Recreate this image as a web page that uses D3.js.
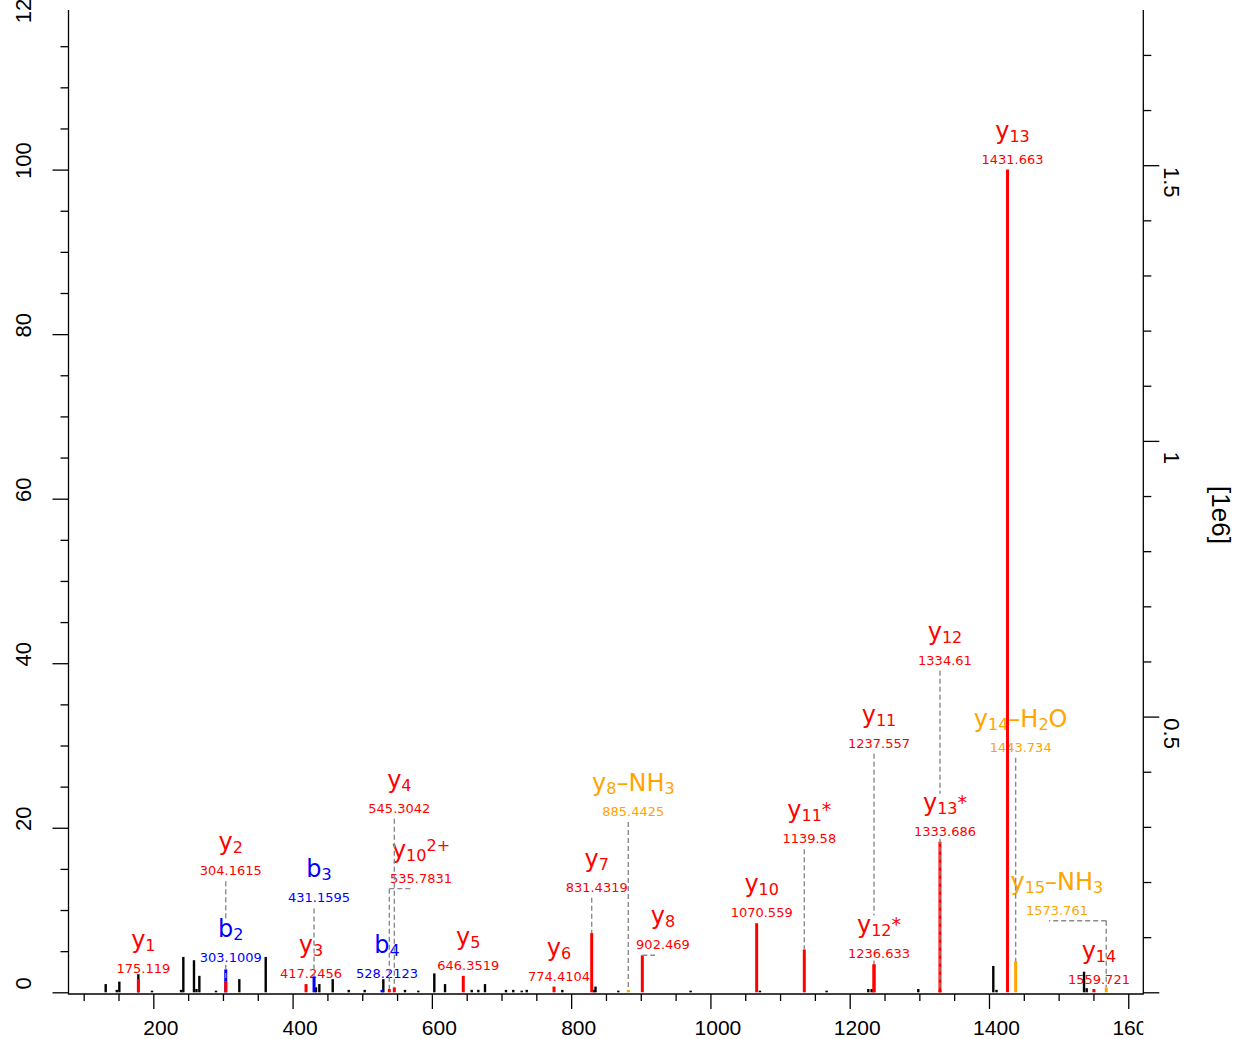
<!DOCTYPE html>
<html><head><meta charset="utf-8">
<script src="https://cdn.jsdelivr.net/npm/d3@7"></script>
<style>body{margin:0;background:#fff}svg{display:block}</style>
</head><body>
<svg id="c" width="1237" height="1039"></svg>
<script>
// ---------------- data ----------------
const basePeakIntensity = 1.492e6;      // intensity of the 100 % peak
// unannotated (black) peaks: m/z and relative intensity (%)
const peakMz  = [131.6,147.5,151.2,178.5,198.1,239.8,243.1,258.4,262.0,266.1,290.0,323.5,361.4,433.6,438.4,457.6,480.6,503.5,530.3,561.4,580.5,603.5,618.9,657.2,666.7,676.3,706.4,716.9,729.0,736.2,787.3,832.4,835.0,867.7,971.6,1071.1,1166.9,1226.7,1231.5,1298.5,1406.2,1410.8,1536.5,1540.3];
const peakRel = [1.0,0.3,1.3,2.2,0.2,0.3,4.3,3.9,0.4,2.0,0.2,1.6,4.3,0.6,1.0,1.6,0.3,0.3,1.6,0.3,0.2,2.3,1.0,0.3,0.3,1.0,0.3,0.3,0.2,0.3,0.3,0.3,0.7,0.2,0.2,0.2,0.2,0.4,0.4,0.4,3.2,0.3,2.5,0.5];
// annotated fragment ions
const ionNames   = ["b2","b3","b4","y1","y2","y3","y10^2+","y4","y5","y6","y7","y8-NH3","y8","y10","y11*","y11","y12*","y12","y13*","y13","y14-H2O","y15-NH3","y14"];
const ionLabels  = ["303.1009","431.1595","528.2123","175.119","304.1615","417.2456","535.7831","545.3042","646.3519","774.4104","831.4319","885.4425","902.469","1070.559","1139.58","1237.557","1236.633","1334.61","1333.686","1431.663","1443.734","1573.761","1559.721"];
const ionTypes   = ["b","b","b","y","y","y","y","y","y","y","y","loss","y","y","y","y","y","y","y","y","loss","loss","y"];
const ionPeakMz  = [304.0,430.8,528.4,178.5,304.0,419.3,538.9,546.1,645.1,775.4,829.5,882.1,902.2,1066.4,1134.8,1234.9,1234.9,1329.6,1329.6,1426.6,1438.3,1568.4,1550.7];
const ionPeakRel = [2.8,1.95,0.3,1.6,1.3,1.0,0.4,0.6,2.0,0.7,7.2,0.3,4.5,8.4,5.2,3.4,3.4,0.3,18.3,100,3.8,0.6,0.4];
// level (%) at which each label sits
const ionLabelLevel = [2.95,10.2,1.0,1.62,13.5,1.0,12.6,21.1,2.0,0.65,11.5,20.7,4.5,8.4,17.4,29.0,3.5,39.1,18.3,100,28.5,8.7,0.3];
// m/z where a label was moved sideways (null = above its peak)
const ionLabelShift = [null,null,null,null,null,null,577.2,null,null,null,null,null,924.7,null,null,null,null,null,null,null,null,1490.4,null];
const xMajorTicks = [200,400,600,800,1000,1200,1400,1600];
const yTickLabels = [0,20,40,60,80,100,120];
const rightTickLabels = [0.5,1,1.5];

// ---------------- scales ----------------
const svg = d3.select("#c");
const x  = d3.scaleLinear().domain([78.2, 1621.6]).range([68.5, 1143.3]);
const y  = d3.scaleLinear().domain([0, 119.4]).range([992.3, 10]);
const yR = d3.scaleLinear().domain([0, 119.4*basePeakIntensity/100/1e6]).range([992.3, 10]);
const axisFont = "'Liberation Sans', Arial, Helvetica, sans-serif";
const annFont  = "'DejaVu Sans', Verdana, sans-serif";
const colorOf  = {y:"#ff0000", b:"#0000ff", loss:"#ffa500"};

svg.append("defs").append("clipPath").attr("id","xclip")
  .append("rect").attr("x",0).attr("y",990).attr("width",x.range()[1]).attr("height",60);

// ---------------- axes ----------------
function styleAxis(g){ g.select(".domain").remove(); g.selectAll("line").attr("stroke","#000").attr("stroke-width",1.3); }
const yMinor = d3.range(5,119,5).filter(v=>v%20!==0);
svg.append("g").attr("transform","translate(68.5,0)")
  .call(d3.axisLeft(y).tickValues(yTickLabels.filter(v=>v<=y.domain()[1])).tickSize(16).tickFormat("")).call(styleAxis);
svg.append("g").attr("transform","translate(68.5,0)")
  .call(d3.axisLeft(y).tickValues(yMinor).tickSize(8).tickFormat("")).call(styleAxis);
svg.append("g").selectAll("text").data(yTickLabels).join("text")
  .attr("transform",d=>`translate(23.5,${Math.max(y(d)-9, 5)}) rotate(-90)`)
  .attr("text-anchor","middle").attr("dominant-baseline","central")
  .attr("font-family",axisFont).attr("font-size",22).text(d=>d);

const xMinor = d3.range(100,1601,50).filter(v=>v%200!==0);
svg.append("g").attr("transform","translate(0,994)")
  .call(d3.axisBottom(x).tickValues(xMajorTicks).tickSize(15).tickFormat("")).call(styleAxis);
svg.append("g").attr("transform","translate(0,994)")
  .call(d3.axisBottom(x).tickValues(xMinor).tickSize(7).tickFormat("")).call(styleAxis);
svg.append("g").attr("clip-path","url(#xclip)").selectAll("text").data(xMajorTicks).join("text")
  .attr("x",d=>x(d)+7.5).attr("y",1034.5).attr("text-anchor","middle")
  .attr("font-family",axisFont).attr("font-size",21).text(d=>d);

const rMajor = [0].concat(rightTickLabels);
const rMinor = d3.range(1,18).map(i=>i/10).filter(v=>Math.abs(v*2-Math.round(v*2))>1e-6);
svg.append("g").attr("transform","translate(1143.3,0)")
  .call(d3.axisRight(yR).tickValues(rMajor).tickSize(16).tickFormat("")).call(styleAxis);
svg.append("g").attr("transform","translate(1143.3,0)")
  .call(d3.axisRight(yR).tickValues(rMinor).tickSize(8).tickFormat("")).call(styleAxis);
svg.append("g").selectAll("text").data(rightTickLabels).join("text")
  .attr("transform",d=>`translate(1171,${yR(d)+17}) rotate(90)`)
  .attr("text-anchor","middle").attr("dominant-baseline","central")
  .attr("font-family",axisFont).attr("font-size",22).text(d=>d);
svg.append("text").attr("transform","translate(1221,515) rotate(90)")
  .attr("text-anchor","middle").attr("dominant-baseline","central")
  .attr("font-family",axisFont).attr("font-size",26).text("[1e6]");

const axisLines = svg.append("g").attr("stroke","#000").attr("stroke-width",1.3);
axisLines.append("line").attr("x1",x.range()[0]).attr("x2",x.range()[0]).attr("y1",y.range()[1]).attr("y2",994.6);
axisLines.append("line").attr("x1",x.range()[1]).attr("x2",x.range()[1]).attr("y1",y.range()[1]).attr("y2",994.6);
axisLines.append("line").attr("x1",x.range()[0]).attr("x2",x.range()[1]).attr("y1",994).attr("y2",994);

// ---------------- annotations ----------------
const ions = ionNames.map((n,i)=>({name:n,label:ionLabels[i],type:ionTypes[i],pm:ionPeakMz[i],rel:ionPeakRel[i],level:ionLabelLevel[i],shift:ionLabelShift[i]}));
ions.forEach(d=>{ d.px = x(d.pm); d.L = y(d.level); d.top = y(d.rel); d.cx = (d.shift!=null ? x(d.shift) : d.px) + 5; });

function parts(name){
  const out=[]; let sup=false;
  for(const ch of name){
    if(ch==='^'){sup=true;continue;}
    const kind = sup ? 'sup' : (/\d/.test(ch) ? 'sub' : (ch==='*' ? 'star' : 'big'));
    const t = ch==='-' ? '\u2013' : ch;
    if(out.length && out[out.length-1].kind===kind) out[out.length-1].t += t; else out.push({kind,t});
  }
  return out;
}
const sizeOf = {big:24, sub:16, sup:16, star:19};
const offOf  = {big:0, sub:3, sup:-7, star:-2};

const gLab = svg.append("g").attr("font-family",annFont);
ions.forEach(d=>{
  const c = colorOf[d.type];
  const t = gLab.append("text").attr("x",d.cx).attr("y",d.L-31).attr("text-anchor","middle").attr("fill",c);
  let cur=0;
  parts(d.name).forEach(p=>{
    t.append("tspan").attr("font-size",sizeOf[p.kind]).attr("dy",offOf[p.kind]-cur).text(p.t);
    cur = offOf[p.kind];
  });
  const m = gLab.append("text").attr("x",d.cx).attr("y",d.L-6).attr("text-anchor","middle")
    .attr("fill",c).attr("font-size",13).text(d.label);
  const b1=t.node().getBBox(), b2=m.node().getBBox();
  d.box = {x0:Math.min(b1.x,b2.x), x1:Math.max(b1.x+b1.width,b2.x+b2.width), y0:d.L-48, y1:d.L-3};
});

// peaks
const gPk = svg.append("g");
gPk.selectAll("line").data(d3.zip(peakMz,peakRel)).join("line")
  .attr("x1",d=>x(d[0])).attr("x2",d=>x(d[0])).attr("y1",y(0)).attr("y2",d=>y(d[1]))
  .attr("stroke","#000").attr("stroke-width",2.4);
const order = {b:0,y:1,loss:2};
gPk.selectAll("line.ion").data(ions.slice().sort((a,b)=>order[a.type]-order[b.type])).join("line").attr("class","ion")
  .attr("x1",d=>d.px).attr("x2",d=>d.px).attr("y1",y(0)).attr("y2",d=>d.top)
  .attr("stroke",d=>colorOf[d.type]).attr("stroke-width",3);

// dashed connectors
const segs=[];
ions.forEach(d=>{
  if(d.shift!=null) segs.push([d.px,d.L,d.cx-8,d.L]);
  if(d.top-d.L>6){
    let parts=[[d.L,d.top]];
    ions.forEach(o=>{
      if(o===d || Math.abs(o.px-d.px)>2 || o.L<=d.L) return;
      const np=[];
      parts.forEach(([a,b])=>{
        if(o.box.y1<=a || o.box.y0>=b){np.push([a,b]);return;}
        if(o.box.y0>a) np.push([a,o.box.y0]);
        if(o.box.y1<b) np.push([o.box.y1,b]);
      });
      parts=np;
    });
    parts.forEach(([a,b])=>segs.push([d.px,a,d.px,b]));
  }
});
svg.append("g").selectAll("line").data(segs).join("line")
  .attr("x1",s=>s[0]).attr("y1",s=>s[1]).attr("x2",s=>s[2]).attr("y2",s=>s[3])
  .attr("stroke","#8a8a8a").attr("stroke-width",1.4).attr("stroke-dasharray","5,3");
</script>
</body></html>
